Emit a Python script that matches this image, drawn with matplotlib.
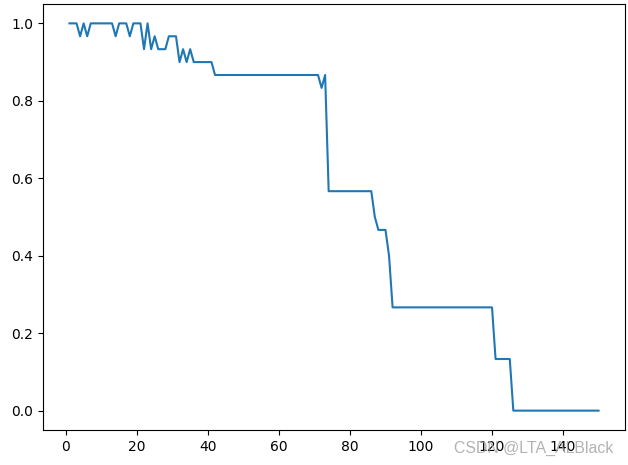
import numpy as np
import matplotlib
matplotlib.use("Agg")
import matplotlib.pyplot as plt

# hits out of 30 trials, for epochs 1..150
total = 30
hits = [
    30, 30, 30, 29, 30, 29, 30, 30, 30, 30,
    30, 30, 30, 29, 30, 30, 30, 29, 30, 30,
    30, 28, 30, 28, 29, 28, 28, 28, 29, 29,
    29, 27, 28, 27, 28, 27, 27, 27, 27, 27,
    27, 26, 26, 26, 26, 26, 26, 26, 26, 26,
    26, 26, 26, 26, 26, 26, 26, 26, 26, 26,
    26, 26, 26, 26, 26, 26, 26, 26, 26, 26,
    26, 25, 26, 17, 17, 17, 17, 17, 17, 17,
    17, 17, 17, 17, 17, 17, 15, 14, 14, 14,
    12, 8, 8, 8, 8, 8, 8, 8, 8, 8,
    8, 8, 8, 8, 8, 8, 8, 8, 8, 8,
    8, 8, 8, 8, 8, 8, 8, 8, 8, 8,
    4, 4, 4, 4, 4, 0, 0, 0, 0, 0,
    0, 0, 0, 0, 0, 0, 0, 0, 0, 0,
    0, 0, 0, 0, 0, 0, 0, 0, 0, 0,
]
epochs = np.arange(1, len(hits) + 1)
rate = np.array(hits) / total

fig = plt.figure(figsize=(6.28, 4.65), dpi=100)
ax = fig.add_axes([43 / 628, 1 - 430 / 465, (625 - 43) / 628, (430 - 4) / 465])
ax.plot(epochs, rate)

# watermark
fig.text(454 / 628, 1 - 453 / 465, "CSDN @LTA_ALBlack", color="#a0a0a0", alpha=0.8,
         fontsize=11.4, family="Liberation Sans")

fig.savefig("out.png", dpi=100)
